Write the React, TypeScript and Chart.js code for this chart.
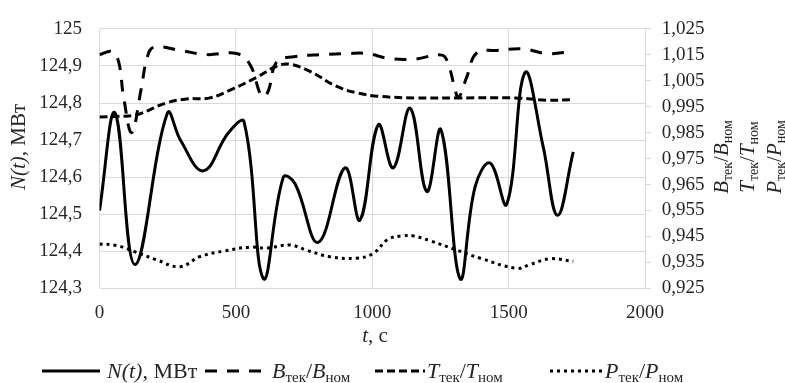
import React, { useEffect, useRef } from "react";
import { Chart, registerables } from "chart.js";

Chart.register(...registerables);

const X_TICKS = [0, 500, 1000, 1500, 2000];
const LEFT_TICKS = [124.3, 124.4, 124.5, 124.6, 124.7, 124.8, 124.9, 125];
const RIGHT_TICKS = [0.925, 0.935, 0.945, 0.955, 0.965, 0.975, 0.985, 0.995, 1.005, 1.015, 1.025];

// N(t), MW (left axis)
const N_T = [0, 57, 130, 249, 298, 381, 472, 530, 601, 674, 717, 802, 900, 955, 1022, 1077, 1139, 1200, 1252, 1322, 1377, 1432, 1493, 1560, 1627, 1679, 1737];
const N_V = [124.51, 124.773, 124.364, 124.773, 124.698, 124.617, 124.719, 124.749, 124.326, 124.6, 124.582, 124.424, 124.625, 124.484, 124.741, 124.625, 124.786, 124.561, 124.728, 124.326, 124.574, 124.638, 124.527, 124.882, 124.681, 124.497, 124.668];

// B_tek / B_nom (right axis)
const B_T = [0, 45, 70, 88, 118, 152, 174, 198, 296, 393, 503, 552, 588, 602, 620, 650, 713, 811, 909, 982, 1061, 1158, 1256, 1281, 1300, 1316, 1346, 1383, 1456, 1554, 1640, 1737];
const B_V = [1.0151, 1.0163, 1.0124, 0.999, 0.985, 1.0014, 1.0136, 1.0179, 1.0167, 1.0151, 1.0155, 1.0112, 1.0002, 0.9988, 1.0014, 1.0124, 1.0143, 1.0151, 1.0155, 1.0155, 1.0136, 1.0134, 1.0149, 1.0106, 1.0033, 0.9986, 1.0063, 1.0158, 1.0167, 1.0173, 1.0155, 1.0163];

// T_tek / T_nom (right axis)
const T_T = [0, 73, 136, 246, 319, 405, 491, 576, 649, 697, 770, 868, 941, 1026, 1158, 1316, 1524, 1640, 1737];
const T_V = [0.991, 0.9913, 0.9919, 0.9965, 0.998, 0.9984, 1.002, 1.0063, 1.0106, 1.0114, 1.0087, 1.0029, 1.0004, 0.999, 0.9984, 0.9984, 0.9984, 0.9975, 0.9977];

// P_tek / P_nom (right axis)
const P_T = [0, 63, 124, 209, 295, 368, 454, 552, 613, 697, 759, 844, 942, 1003, 1058, 1110, 1151, 1213, 1310, 1396, 1530, 1579, 1652, 1737];
const P_V = [0.9421, 0.9415, 0.9393, 0.936, 0.9333, 0.9372, 0.9393, 0.9409, 0.9405, 0.9417, 0.9397, 0.9372, 0.9366, 0.9384, 0.9439, 0.9452, 0.9452, 0.9433, 0.9397, 0.9366, 0.9327, 0.9342, 0.9364, 0.9354];

const SERIF = "'Liberation Serif', 'Times New Roman', serif";
const GRID = "#d9d9d9";
const TEXT = "#262626";

type Seg = { t: string; i?: boolean; sub?: boolean };

function segFont(s: Seg, size: number) {
  const sz = s.sub ? Math.round(size * 0.66) : size;
  return `${s.i ? "italic " : ""}${sz}px ${SERIF}`;
}
function richWidth(ctx: CanvasRenderingContext2D, segs: Seg[], size: number) {
  let w = 0;
  for (const s of segs) {
    ctx.font = segFont(s, size);
    w += ctx.measureText(s.t).width;
  }
  return w;
}
function drawRich(ctx: CanvasRenderingContext2D, segs: Seg[], x: number, y: number, size: number, align: "left" | "center") {
  const w = richWidth(ctx, segs, size);
  let cx = align === "center" ? x - w / 2 : x;
  ctx.textAlign = "left";
  ctx.textBaseline = "alphabetic";
  for (const s of segs) {
    ctx.font = segFont(s, size);
    ctx.fillText(s.t, cx, y + (s.sub ? size * 0.2 : 0));
    cx += ctx.measureText(s.t).width;
  }
}

const N_LABEL: Seg[] = [{ t: "N(t)", i: true }, { t: ", МВт" }];
const B_LABEL: Seg[] = [{ t: "B", i: true }, { t: "тек", sub: true }, { t: "/" }, { t: "B", i: true }, { t: "ном", sub: true }];
const T_LABEL: Seg[] = [{ t: "T", i: true }, { t: "тек", sub: true }, { t: "/" }, { t: "T", i: true }, { t: "ном", sub: true }];
const P_LABEL: Seg[] = [{ t: "P", i: true }, { t: "тек", sub: true }, { t: "/" }, { t: "P", i: true }, { t: "ном", sub: true }];
const X_LABEL: Seg[] = [{ t: "t", i: true }, { t: ", с" }];

const DASH_B = [12, 10];
const DASH_T = [8, 4];
const DASH_P = [3, 4];

const textPlugin = {
  id: "texts",
  afterDraw(chart: any) {
    const ctx: CanvasRenderingContext2D = chart.ctx;
    ctx.save();
    ctx.fillStyle = TEXT;
    // left axis title
    ctx.save();
    ctx.translate(25, 147);
    ctx.rotate(-Math.PI / 2);
    drawRich(ctx, N_LABEL, 0, 0, 21, "center");
    ctx.restore();
    // right axis titles
    const rt: [Seg[], number][] = [[B_LABEL, 728], [T_LABEL, 754], [P_LABEL, 781]];
    for (const [segs, x] of rt) {
      ctx.save();
      ctx.translate(x, 157);
      ctx.rotate(-Math.PI / 2);
      drawRich(ctx, segs, 0, 0, 21, "center");
      ctx.restore();
    }
    // x axis title
    drawRich(ctx, X_LABEL, 375, 342, 21, "center");
    // legend
    const ly = 371;
    const items: [number, number, number[], number, Seg[]][] = [
      [42, 100, [], 107, N_LABEL],
      [205, 265, DASH_B, 272, B_LABEL],
      [375, 425, DASH_T, 427, T_LABEL],
      [550, 603, DASH_P, 605, P_LABEL],
    ];
    for (const [x0, x1, dash, tx, segs] of items) {
      ctx.beginPath();
      ctx.strokeStyle = "#000";
      ctx.lineWidth = 3;
      ctx.lineCap = "butt";
      ctx.setLineDash(dash);
      ctx.moveTo(x0, ly);
      ctx.lineTo(x1, ly);
      ctx.stroke();
      ctx.setLineDash([]);
      ctx.fillStyle = TEXT;
      drawRich(ctx, segs, tx, 378, 22, "left");
    }
    ctx.restore();
  },
};

const pts = (ts: number[], vs: number[]) => ts.map((t, i) => ({ x: t, y: vs[i] }));

export default function App() {
  const ref = useRef<HTMLCanvasElement | null>(null);
  useEffect(() => {
    if (!ref.current) return;
    const tickFont = { family: SERIF, size: 19 };
    const base = { borderColor: "#000", borderWidth: 3, pointRadius: 0, tension: 0.4, fill: false, borderCapStyle: "butt" as const };
    const chart = new Chart(ref.current, {
      type: "line",
      data: {
        datasets: [
          { ...base, label: "N", data: pts(N_T, N_V), yAxisID: "y" },
          { ...base, label: "B", data: pts(B_T, B_V), yAxisID: "y1", borderDash: DASH_B },
          { ...base, label: "T", data: pts(T_T, T_V), yAxisID: "y1", borderDash: DASH_T },
          { ...base, label: "P", data: pts(P_T, P_V), yAxisID: "y1", borderDash: DASH_P },
        ],
      },
      options: {
        responsive: false,
        animation: false,
        devicePixelRatio: 1,
        layout: { padding: { top: 15.7, left: 0, right: 0, bottom: 0 } },
        plugins: { legend: { display: false }, tooltip: { enabled: false } },
        scales: {
          x: {
            type: "linear",
            min: 0,
            max: 2000,
            afterBuildTicks: (s: any) => { s.ticks = X_TICKS.map((v) => ({ value: v })); },
            afterFit: (s: any) => { s.height = 94.7; },
            grid: { color: GRID, drawTicks: false, lineWidth: 1 },
            border: { display: false },
            ticks: { padding: 13, font: tickFont, color: TEXT, maxRotation: 0, autoSkip: false, callback: (v: any) => String(v) },
          },
          y: {
            type: "linear",
            position: "left",
            min: 124.3,
            max: 125,
            afterBuildTicks: (s: any) => { s.ticks = LEFT_TICKS.map((v) => ({ value: v })); },
            afterFit: (s: any) => { s.width = 99.5; },
            grid: { color: GRID, drawTicks: false, lineWidth: 1 },
            border: { display: false },
            ticks: {
              padding: 17.5, font: tickFont, color: TEXT, autoSkip: false,
              callback: (v: any) => (Math.abs(v - 125) < 1e-6 ? "125" : Number(v).toFixed(1).replace(".", ",")),
            },
          },
          y1: {
            type: "linear",
            position: "right",
            min: 0.925,
            max: 1.025,
            afterBuildTicks: (s: any) => { s.ticks = RIGHT_TICKS.map((v) => ({ value: v })); },
            afterFit: (s: any) => { s.width = 140; },
            grid: { drawOnChartArea: false, color: GRID, drawTicks: true, tickLength: 6, lineWidth: 1 },
            border: { display: true, color: GRID },
            ticks: {
              padding: 10.7, font: tickFont, color: TEXT, autoSkip: false,
              callback: (v: any) => Number(v).toFixed(3).replace(".", ","),
            },
          },
        },
      },
      plugins: [textPlugin],
    });
    return () => chart.destroy();
  }, []);
  return (
    <div style={{ position: "fixed", left: 0, top: 0, width: 785, height: 383, background: "#fff" }}>
      <canvas ref={ref} width={785} height={383} style={{ display: "block" }} />
    </div>
  );
}
